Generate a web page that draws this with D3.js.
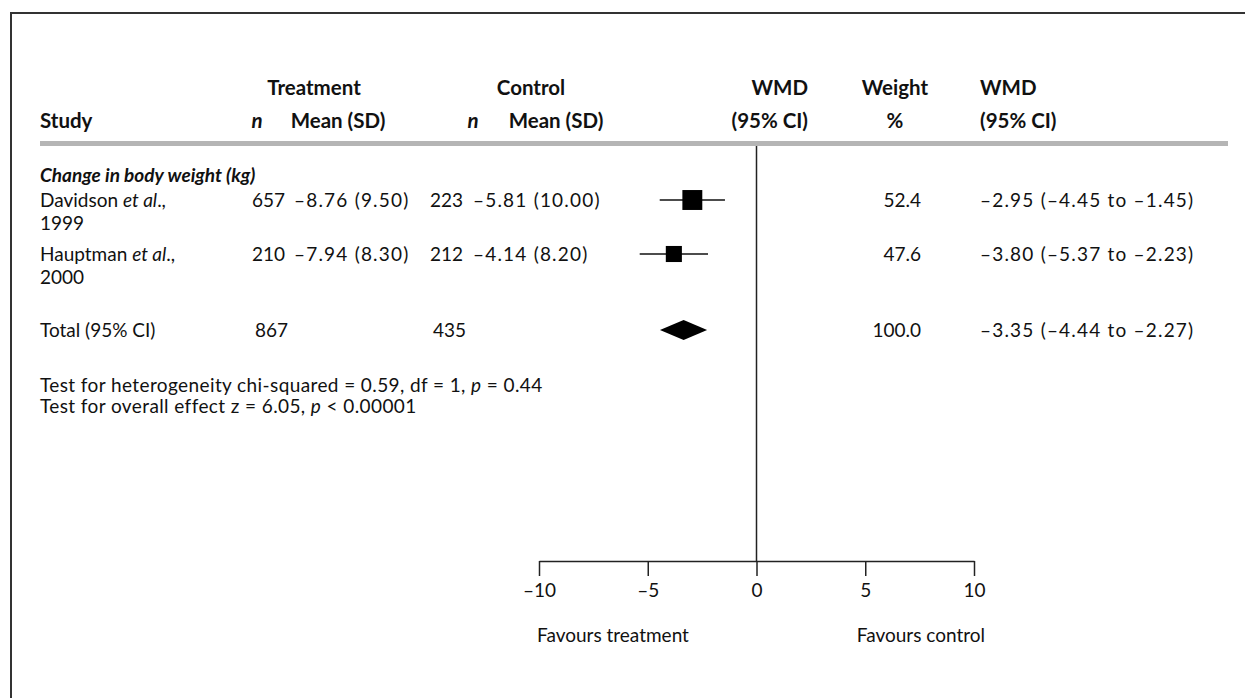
<!DOCTYPE html>
<html>
<head>
<meta charset="utf-8">
<script src="https://cdn.jsdelivr.net/npm/d3@7"></script>
<style>
  html, body { margin: 0; padding: 0; background: #fff; }
  svg text { font-family: Lato, "Open Sans", sans-serif; fill: #111; }
  .hdr { font-weight: bold; font-size: 20.5px; }
  .num { letter-spacing: 1.2px; }
</style>
</head>
<body>
<div id="forest"></div>
<script>
// study level data
const authors = ["Davidson", "Hauptman"];
const years = ["1999", "2000"];
const treatN = [657, 210];
const treatMean = ["–8.76", "–7.94"];
const treatSD = ["9.50", "8.30"];
const ctrlN = [223, 212];
const ctrlMean = ["–5.81", "–4.14"];
const ctrlSD = ["10.00", "8.20"];
const wmd = [-2.95, -3.80];
const ciLow = [-4.45, -5.37];
const ciHigh = [-1.45, -2.23];
const weights = [52.4, 47.6];

// pooled result
const totalLabel = "Total (95% CI)";
const totalTreatN = 867;
const totalCtrlN = 435;
const totalWmd = -3.35;
const totalLow = -4.44;
const totalHigh = -2.27;
const totalWeight = 100.0;

// axis
const axisTicks = [-10, -5, 0, 5, 10];
const groupTitle = "Change in body weight (kg)";

const width = 1245, height = 698;

const svg = d3.select("#forest").append("svg")
    .attr("width", width)
    .attr("height", height);

// frame (runs off the right and bottom of the picture)
svg.append("path")
    .attr("d", `M11,${height + 5} V13 H${width + 5}`)
    .attr("fill", "none")
    .attr("stroke", "#333")
    .attr("stroke-width", 2);

const x = d3.scaleLinear().domain([-10, 10]).range([539, 974]);
const boxSize = d3.scaleLinear().domain([45, 55]).range([14, 22]);

const fmt = d3.format(".2f");
const neg = v => (v < 0 ? "–" : "") + fmt(Math.abs(v));
const ciText = (m, lo, hi) => `${neg(m)} (${neg(lo)} to ${neg(hi)})`;

const fs = 19;
const txt = (xp, yp, anchor) => svg.append("text")
    .attr("x", xp).attr("y", yp)
    .attr("dy", "0.35em")
    .attr("text-anchor", anchor || "start")
    .style("font-size", fs + "px");
const hdr = (xp, yp, anchor) => txt(xp, yp, anchor).attr("class", "hdr").style("font-size", null);

// header
const h1 = 88, h2 = 121;
hdr(314, h1, "middle").text("Treatment");
hdr(531, h1, "middle").text("Control");
hdr(808, h1, "end").text("WMD");
hdr(895, h1, "middle").text("Weight");
hdr(980, h1).text("WMD");

hdr(40, h2).text("Study");
hdr(257, h2, "middle").style("font-style", "italic").text("n");
hdr(338, h2, "middle").text("Mean (SD)");
hdr(473, h2, "middle").style("font-style", "italic").text("n");
hdr(556, h2, "middle").text("Mean (SD)");
hdr(808, h2, "end").text("(95% CI)");
hdr(895, h2, "middle").text("%");
hdr(980, h2).text("(95% CI)");

svg.append("rect")
    .attr("x", 40).attr("y", 141)
    .attr("width", 1188).attr("height", 5)
    .attr("fill", "#b5b5b5");

// line of no effect
const axisY = 561;
svg.append("line")
    .attr("x1", x(0)).attr("x2", x(0))
    .attr("y1", 146).attr("y2", axisY)
    .attr("stroke", "#222").attr("stroke-width", 1.5);

// group title
txt(40, 175).style("font-weight", "bold").style("font-style", "italic").text(groupTitle);

// study rows
const rowY = [200, 254];
authors.forEach((a, i) => {
    const y = rowY[i];
    const t = txt(40, y);
    t.append("tspan").text(a + " ");
    t.append("tspan").style("font-style", "italic").text("et al");
    t.append("tspan").text(".,");
    txt(40, y + 23).text(years[i]);

    txt(285, y, "end").text(treatN[i]);
    txt(294, y).attr("class", "num").text(`${treatMean[i]} (${treatSD[i]})`);
    txt(463, y, "end").text(ctrlN[i]);
    txt(473, y).attr("class", "num").text(`${ctrlMean[i]} (${ctrlSD[i]})`);

    svg.append("line")
        .attr("x1", x(ciLow[i])).attr("x2", x(ciHigh[i]))
        .attr("y1", y).attr("y2", y)
        .attr("stroke", "#111").attr("stroke-width", 1.5);
    const s = boxSize(weights[i]);
    svg.append("rect")
        .attr("x", x(wmd[i]) - s / 2).attr("y", y - s / 2)
        .attr("width", s).attr("height", s)
        .attr("fill", "#000");

    txt(921, y, "end").text(weights[i].toFixed(1));
    txt(980, y).attr("class", "num").text(ciText(wmd[i], ciLow[i], ciHigh[i]));
});

// total row
const ty = 330;
txt(40, ty).text(totalLabel);
txt(255, ty).text(totalTreatN);
txt(433, ty).text(totalCtrlN);
const dh = 10;
svg.append("path")
    .attr("d", `M${x(totalLow)},${ty} L${x(totalWmd)},${ty - dh} L${x(totalHigh)},${ty} L${x(totalWmd)},${ty + dh} Z`)
    .attr("fill", "#000");
txt(921, ty, "end").text(totalWeight.toFixed(1));
txt(980, ty).attr("class", "num").text(ciText(totalWmd, totalLow, totalHigh));

// tests
const t1 = txt(40, 385).style("letter-spacing", "0.4px");
t1.append("tspan").text("Test for heterogeneity chi-squared = 0.59, df = 1, ");
t1.append("tspan").style("font-style", "italic").text("p");
t1.append("tspan").text(" = 0.44");
const t2 = txt(40, 406).style("letter-spacing", "0.4px");
t2.append("tspan").text("Test for overall effect z = 6.05, ");
t2.append("tspan").style("font-style", "italic").text("p");
t2.append("tspan").text(" < 0.00001");

// axis
const axis = d3.axisBottom(x)
    .tickValues(axisTicks)
    .tickSize(15)
    .tickSizeOuter(0)
    .tickPadding(8)
    .tickFormat(d => (d < 0 ? "–" : "") + Math.abs(d));
const ag = svg.append("g")
    .attr("transform", `translate(0,${axisY})`)
    .call(axis);
ag.select(".domain").attr("stroke", "#222").attr("stroke-width", 1.5);
ag.selectAll(".tick line").attr("stroke", "#222").attr("stroke-width", 1.5);
ag.selectAll(".tick text")
    .style("font-size", fs + "px")
    .style("font-family", "Lato, sans-serif")
    .attr("fill", "#111");

txt(537, 635).text("Favours treatment");
txt(985, 635, "end").text("Favours control");
</script>
</body>
</html>
